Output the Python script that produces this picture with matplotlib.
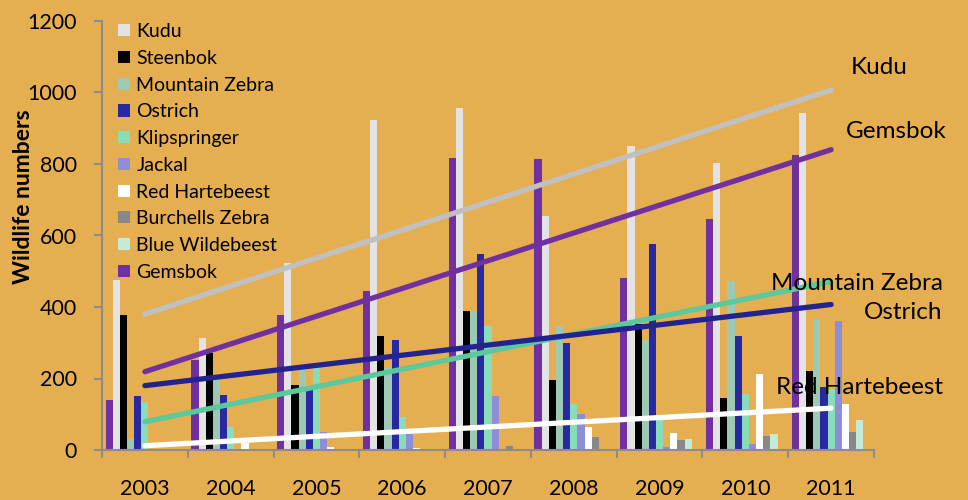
import matplotlib.pyplot as plt
import numpy as np
from matplotlib.patches import Patch

years = ["2003", "2004", "2005", "2006", "2007", "2008", "2009", "2010", "2011"]

# species in legend order
species = ["Kudu", "Steenbok", "Mountain Zebra", "Ostrich", "Klipspringer", "Jackal",
           "Red Hartebeest", "Burchells Zebra", "Blue Wildebeest", "Gemsbok"]

kudu = [475, 313, 524, 923, 958, 654, 851, 802, 942]
steenbok = [377, 271, 182, 319, 388, 196, 352, 146, 222]
mountain_zebra = [30, 198, 226, 230, 388, 348, 308, 473, 366]
ostrich = [151, 155, 168, 308, 549, 298, 576, 319, 175]
klipspringer = [134, 63, 230, 91, 348, 130, 98, 158, 170]
jackal = [0, 0, 50, 45, 151, 100, 7, 17, 361]
red_hartebeest = [0, 20, 7, 5, 0, 63, 47, 212, 129]
burchells_zebra = [0, 0, 0, 0, 11, 36, 28, 39, 49]
blue_wildebeest = [0, 0, 0, 0, 0, 0, 31, 45, 84]
gemsbok = [141, 251, 378, 445, 816, 813, 480, 645, 825]

series = [kudu, steenbok, mountain_zebra, ostrich, klipspringer, jackal,
          red_hartebeest, burchells_zebra, blue_wildebeest, gemsbok]
colors = ["#E3E3E3", "#000000", "#9CC8B4", "#2828A0", "#88DDB8", "#8E8ED8",
          "#FFFFFF", "#888888", "#C4EAD8", "#7030A0"]
# order of bars inside a year group
bar_order = [9, 0, 1, 2, 3, 4, 5, 6, 7, 8]

# trend lines: (label, start value 2003, end value 2011, colour)
trend_names = ["Kudu", "Gemsbok", "Mountain Zebra", "Ostrich", "Red Hartebeest"]
trend_start = [380, 219, 79, 180, 12]
trend_end = [1007, 840, 471, 407, 117]
trend_colors = ["#C0C0C0", "#7030A0", "#5CC89C", "#232390", "#FFFFFF"]

bg = "#E5AF51"
plt.rcParams["font.family"] = ["Lato", "DejaVu Sans"]

fig = plt.figure(figsize=(9.68, 5.0), dpi=100, facecolor=bg)
ax = fig.add_axes([0.1054, 0.1, 0.7975, 0.858])
ax.set_facecolor(bg)

x = np.arange(len(years))
n_slots = 11
bw = 1.0 / (n_slots + 1)
for slot, idx in enumerate(bar_order):
    offs = -0.5 + bw / 2 + (slot + 0.5) * bw
    ax.bar(x + offs, series[idx], width=bw, color=colors[idx], zorder=2)

for name, s, e, c in zip(trend_names, trend_start, trend_end, trend_colors):
    ax.plot([x[0], x[-1]], [s, e], color=c, lw=3.8, solid_capstyle="round", zorder=3)

ax.set_xlim(-0.5, len(years) - 0.5)
ax.set_ylim(0, 1200)
ax.set_yticks(range(0, 1201, 200))
ax.set_xticks(x)
ax.set_xticklabels(years)
ax.set_xticks(np.arange(-0.5, len(years)), minor=True)
ax.tick_params(axis="x", which="major", length=0, pad=21, labelsize=15.5)
ax.tick_params(axis="x", which="minor", length=6, color="#8C8C8C", width=1.5)
ax.tick_params(axis="y", length=6, color="#8C8C8C", width=1.5, labelsize=15.5, pad=12)
for sp in ["top", "right"]:
    ax.spines[sp].set_visible(False)
for sp in ["left", "bottom"]:
    ax.spines[sp].set_color("#8C8C8C")
    ax.spines[sp].set_linewidth(1.5)

fig.text(24 / 968, 1 - 197 / 500, "Wildlife numbers", rotation=90, fontsize=16.5,
         fontweight="bold", ha="center", va="center")

handles = [Patch(facecolor=colors[i], edgecolor="none") for i in range(len(species))]
ax.legend(handles, species, loc="upper left", bbox_to_anchor=(0.011, 1.013), frameon=False,
          fontsize=14, handlelength=0.58, handleheight=0.58, handletextpad=0.35,
          labelspacing=0.5, borderaxespad=0)

# labels at end of trend lines
ax.text(8.23, 1070, "Kudu", fontsize=17.5, ha="left", va="center")
ax.text(8.17, 890, "Gemsbok", fontsize=17.5, ha="left", va="center")
ax.text(9.3, 465, "Mountain Zebra", fontsize=17.5, ha="right", va="center")
ax.text(9.3, 386, "Ostrich", fontsize=17.5, ha="right", va="center")
ax.text(9.3, 176, "Red Hartebeest", fontsize=17.5, ha="right", va="center", zorder=4)

fig.savefig("out.png", dpi=100, facecolor=bg)
